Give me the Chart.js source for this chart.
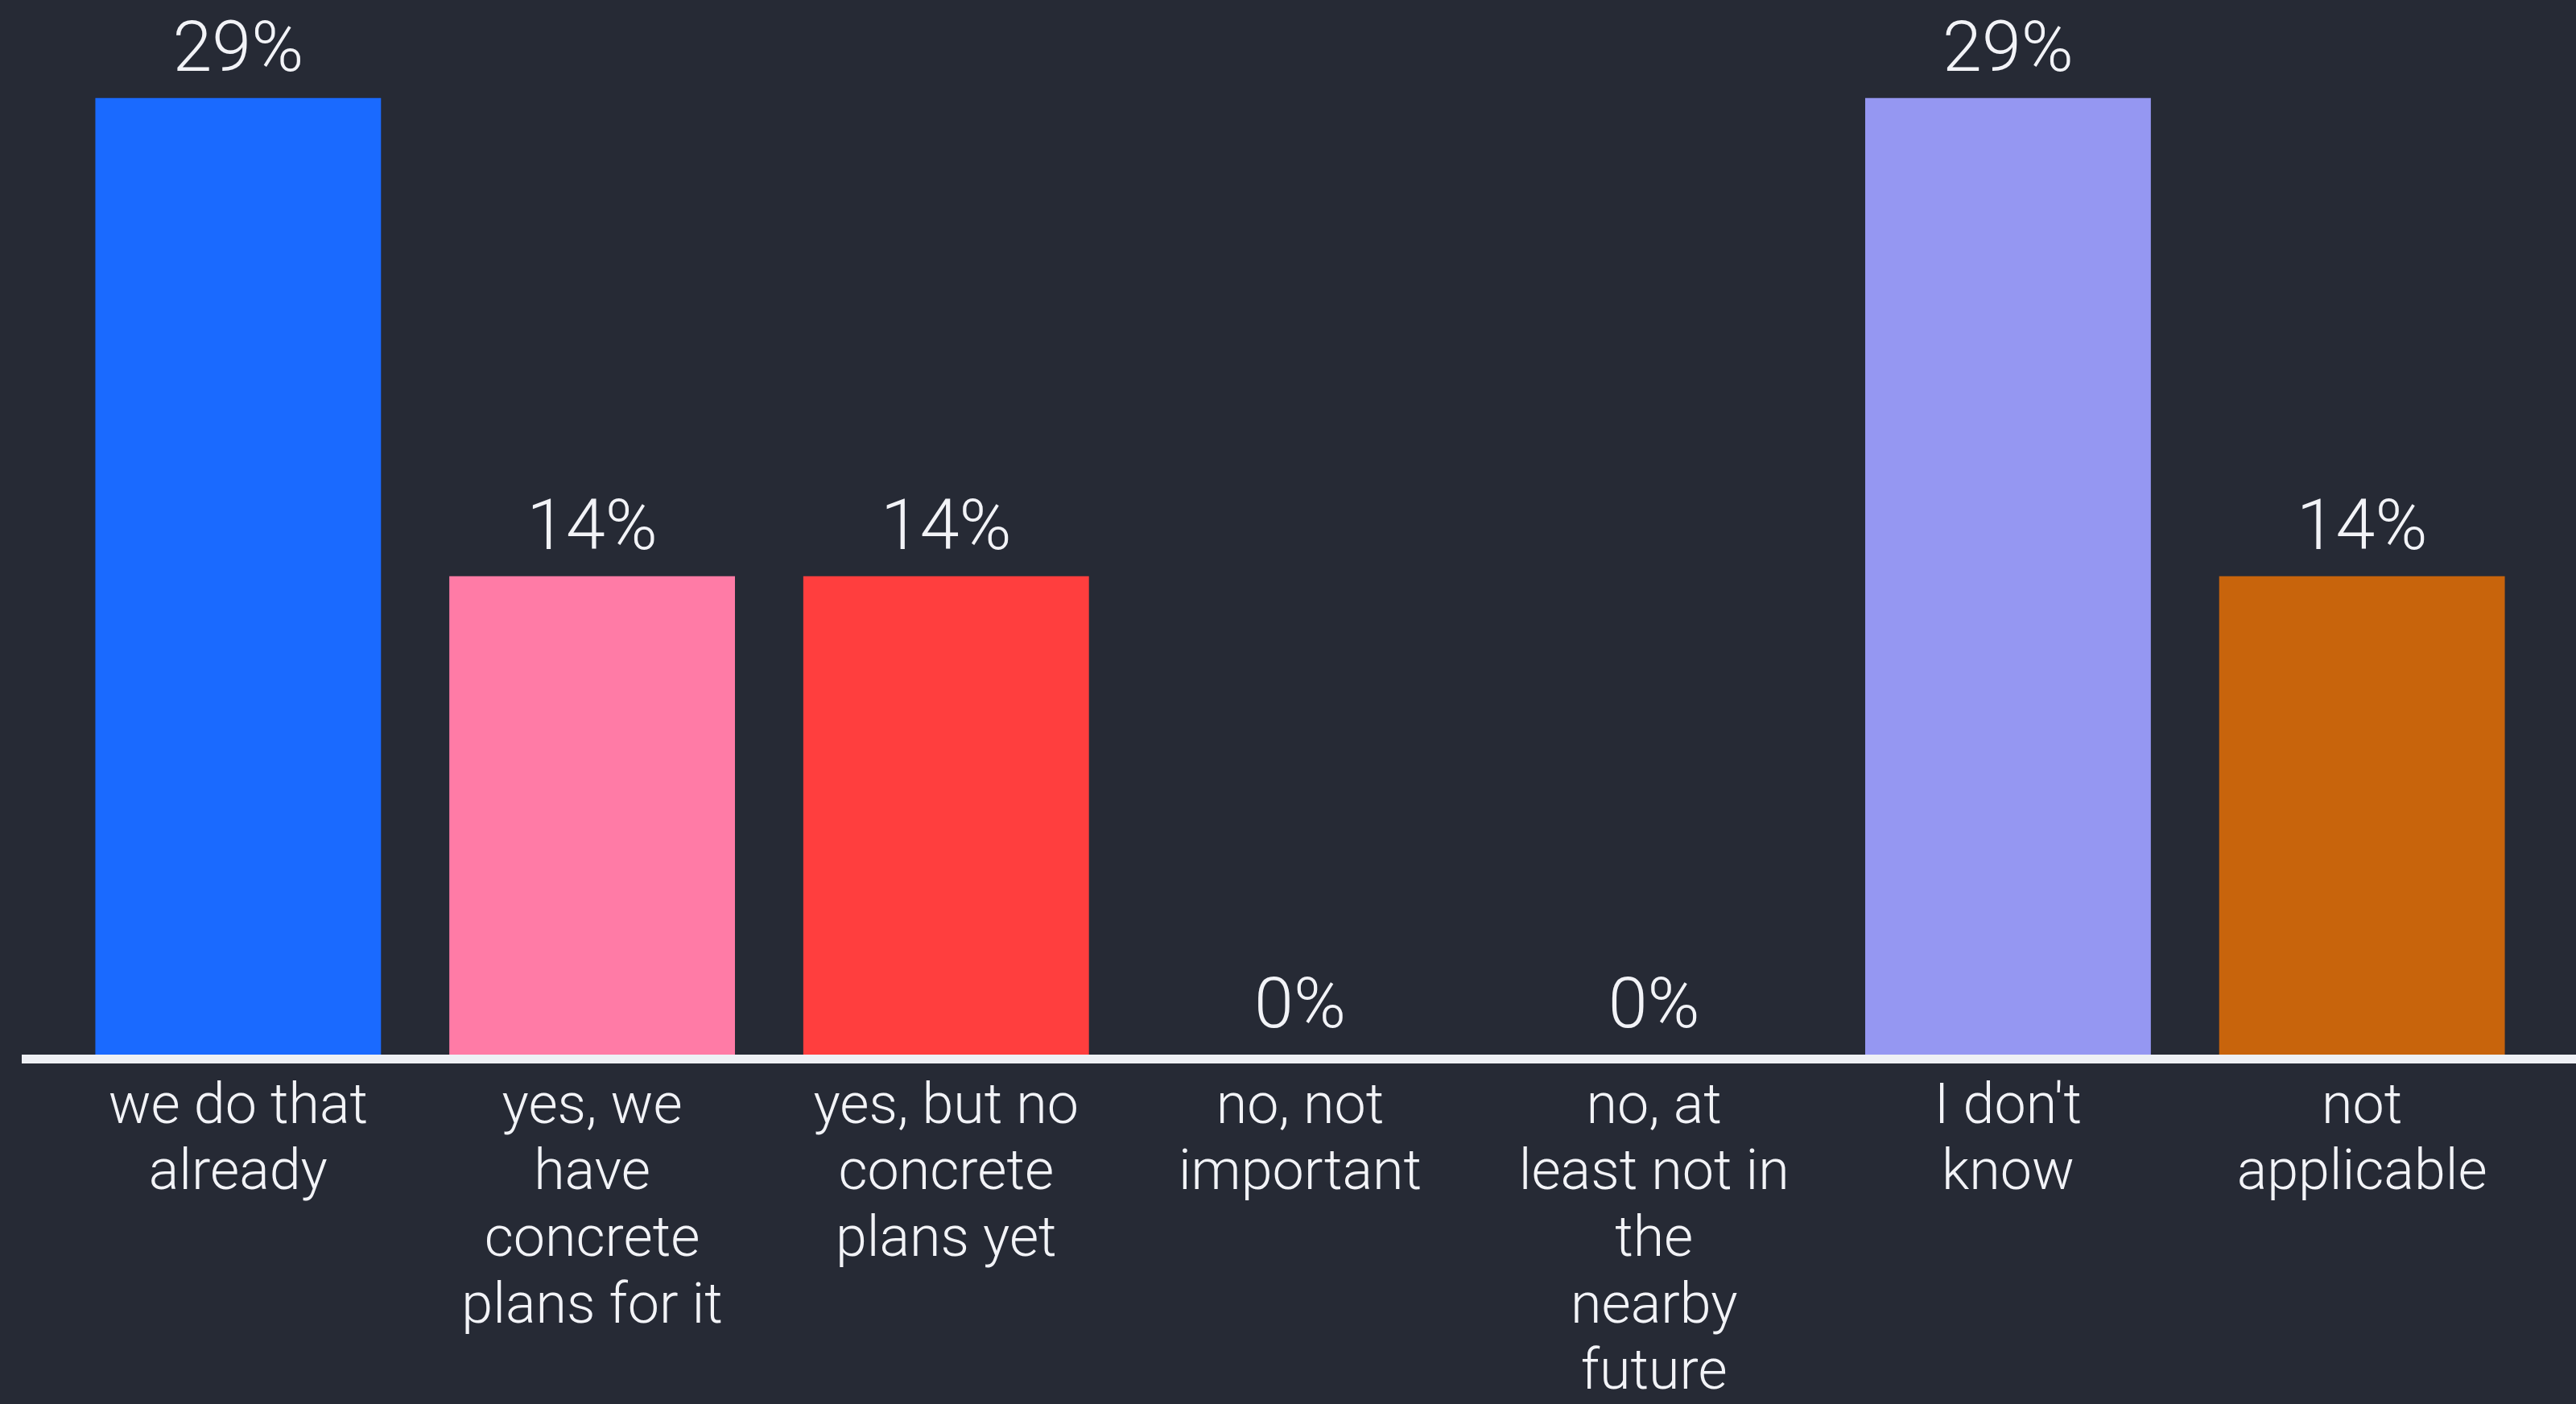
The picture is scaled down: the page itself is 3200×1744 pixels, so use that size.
<!DOCTYPE html>
<html>
<head>
<meta charset="utf-8">
<script src="https://cdn.jsdelivr.net/npm/chart.js@4.4.1/dist/chart.umd.min.js"></script>
<style>
  html, body { margin: 0; padding: 0; background: #262a35; }
  canvas { display: block; }
</style>
</head>
<body>
<canvas id="c" width="3200" height="1744"></canvas>
<script>
const categories = [
  ["we do that", "already"],
  ["yes, we", "have", "concrete", "plans for it"],
  ["yes, but no", "concrete", "plans yet"],
  ["no, not", "important"],
  ["no, at", "least not in", "the", "nearby", "future"],
  ["I don't", "know"],
  ["not", "applicable"]
];
const values = [28.57, 14.29, 14.29, 0, 0, 28.57, 14.29];
const valueLabels = ["29%", "14%", "14%", "0%", "0%", "29%", "14%"];
const barColors = ["#1a6aff", "#ff7ba6", "#ff3e3e", "#9597f2", "#9597f2", "#9597f2", "#c8640c"];

const BG = "#262a35";
const TEXT = "#f2f3f7";
const FONT = "Roboto, 'Noto Sans', sans-serif";

const bgPlugin = {
  id: "bg",
  beforeDraw(chart) {
    const ctx = chart.ctx;
    ctx.save();
    ctx.fillStyle = BG;
    ctx.fillRect(0, 0, chart.width, chart.height);
    ctx.restore();
  }
};

const baselinePlugin = {
  id: "baseline",
  afterDatasetsDraw(chart) {
    const ctx = chart.ctx;
    const y0 = chart.scales.y.getPixelForValue(0);
    ctx.save();
    ctx.fillStyle = "#eef0f5";
    ctx.fillRect(27, y0, chart.width - 27, 11);
    ctx.restore();
  }
};

const valueLabelPlugin = {
  id: "valueLabels",
  afterDatasetsDraw(chart) {
    const ctx = chart.ctx;
    const meta = chart.getDatasetMeta(0);
    ctx.save();
    ctx.fillStyle = TEXT;
    ctx.font = "300 88px " + FONT;
    ctx.textAlign = "center";
    ctx.textBaseline = "alphabetic";
    meta.data.forEach((bar, i) => {
      ctx.fillText(valueLabels[i], bar.x, bar.y - 34);
    });
    ctx.restore();
  }
};

new Chart(document.getElementById("c"), {
  type: "bar",
  data: {
    labels: categories,
    datasets: [{
      data: values,
      backgroundColor: barColors,
      borderWidth: 0,
      categoryPercentage: 1,
      barPercentage: 0.807
    }]
  },
  options: {
    responsive: false,
    animation: false,
    events: [],
    layout: { padding: { top: 0, left: 76, right: 46, bottom: 0 } },
    plugins: {
      legend: { display: false },
      title: { display: false },
      tooltip: { enabled: false }
    },
    scales: {
      x: {
        offset: true,
        grid: { display: false, drawTicks: false },
        border: { display: false },
        ticks: {
          color: TEXT,
          font: { family: FONT, size: 70, weight: 300, lineHeight: 1.18 },
          padding: 26,
          maxRotation: 0,
          minRotation: 0,
          autoSkip: false
        },
        afterFit(scale) { scale.height = 434; }
      },
      y: {
        display: false,
        min: 0,
        max: 31.5
      }
    }
  },
  plugins: [bgPlugin, baselinePlugin, valueLabelPlugin]
});
</script>
</body>
</html>
